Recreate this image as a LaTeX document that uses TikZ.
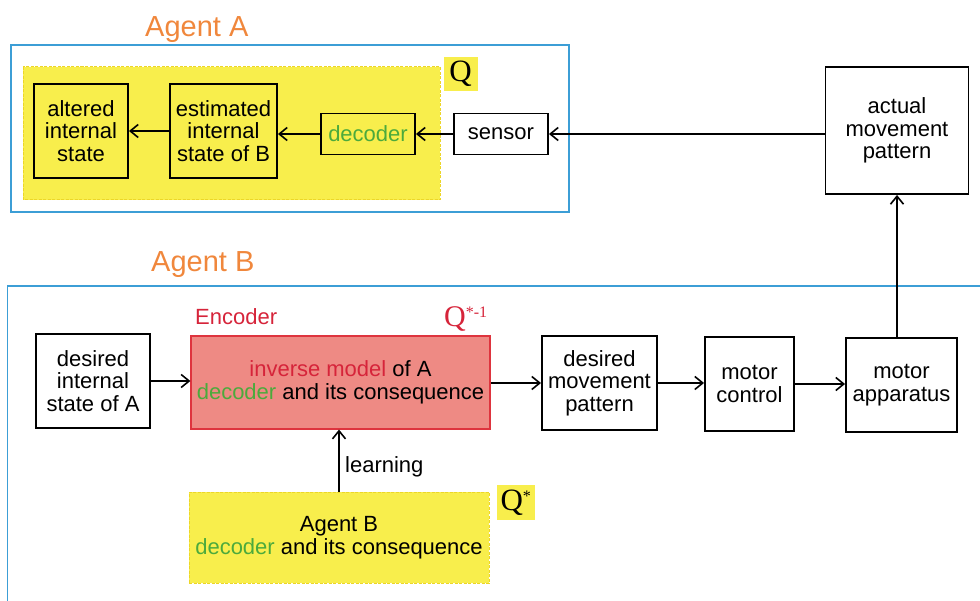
\documentclass[tikz,border=0pt]{standalone}
\usepackage{fontspec}
\setmainfont{Liberation Sans}
\newfontfamily\qfont{Liberation Serif}
\usetikzlibrary{arrows.meta}

\definecolor{agentblue}{RGB}{60,158,214}
\definecolor{hiyellow}{RGB}{248,238,76}
\definecolor{hiyellowedge}{RGB}{236,214,40}
\definecolor{encfill}{RGB}{238,138,132}
\definecolor{encedge}{RGB}{222,52,62}
\definecolor{agentorange}{RGB}{240,135,60}
\definecolor{encred}{RGB}{214,36,58}
\definecolor{decgreen}{RGB}{76,170,60}

\begin{document}
\begin{tikzpicture}[x=1pt,y=-1pt,
  bodytext/.style={font=\fontsize{22}{22.5}\selectfont},
  box/.style={bodytext, draw=black, line width=1.9pt, align=center, inner sep=0pt},
  arr/.style={line width=1.5pt, -{Straight Barb[length=8pt,width=13pt,line width=1.6pt]}},
  agentframe/.style={draw=agentblue, line width=1.2pt},
  agentlabel/.style={font=\fontsize{29}{30}\selectfont, text=agentorange, anchor=base west, inner sep=0pt},
  yellowzone/.style={fill=hiyellow, draw=hiyellowedge, line width=1pt, dash pattern=on 3pt off 1.5pt},
  qtag/.style={fill=hiyellow, inner sep=0pt, minimum width=34pt, minimum height=34pt, font=\qfont\fontsize{31}{31}\selectfont},
]
\useasboundingbox (0,0) rectangle (980,601);

% ---------------- Agent A ----------------
\node[agentlabel] (labA) at (145,37) {Agent A};
\draw[agentframe] (11,45) rectangle (569,212);
\draw[yellowzone] (23,67) rectangle (440,200);
\node[qtag] (qA) at (460.5,74) {Q};

\node[box, minimum width=94pt, minimum height=94pt] (altered) at (81,131) {altered\\internal\\state};
\node[box, minimum width=107pt, minimum height=94pt] (estim) at (223.5,131) {estimated\\internal\\state of B};
\node[box, minimum width=94pt, minimum height=41pt, text=decgreen] (decA) at (368,134) {decoder};
\node[box, minimum width=94pt, minimum height=41pt] (sensor) at (501,134) {sensor};

\node[box, minimum width=143pt, minimum height=127pt] (actual) at (897,130.5) {actual\\movement\\pattern};

% ---------------- Agent B ----------------
\node[agentlabel] (labB) at (151,272) {Agent B};
\draw[agentframe] (7.6,603) -- (7.6,286) -- (982,286);

\node[box, minimum width=114pt, minimum height=94pt] (desint) at (93,381) {desired\\internal\\state of A};
\node[bodytext, draw=encedge, line width=1.2pt, fill=encfill, align=center, inner sep=0pt,
      minimum width=299pt, minimum height=93pt] (enc) at (340.5,382.5)
      {{\color{encred}inverse model} of A\\{\color{decgreen}decoder} and its consequence};
\node[bodytext, text=encred, anchor=base west, inner sep=0pt] (enclab) at (195,325) {Encoder};
\node[font=\qfont\fontsize{30}{30}\selectfont, text=encred, anchor=base west, inner sep=0pt] (qinv) at (444,327)
      {Q\textsuperscript{\fontsize{16}{16}\selectfont *-1}};

\node[box, minimum width=115pt, minimum height=94pt] (desmov) at (599.5,383) {desired\\movement\\pattern};
\node[box, minimum width=89pt, minimum height=94pt] (motctl) at (749.5,384) {motor\\control};
\node[box, minimum width=111pt, minimum height=94pt] (motapp) at (901.5,385) {motor\\apparatus};

\node[bodytext, yellowzone, align=center, inner sep=0pt, minimum width=300pt, minimum height=91pt] (ownB) at (339,537.5)
      {Agent B\\{\color{decgreen}decoder} and its consequence};
\node[qtag, minimum width=38pt, minimum height=35pt] (qB) at (516,502.5) {Q\textsuperscript{\fontsize{16}{16}\selectfont *}};
\node[bodytext, anchor=base west, inner sep=0pt] (learnlab) at (345,472) {learning};

% ---------------- connectors ----------------
\draw[arr] (actual.west |- sensor.east) -- (sensor.east);
\draw[arr] (sensor.west) -- (decA.east);
\draw[arr] (decA.west) -- (decA.west -| estim.east);
\draw[arr] (estim.west) -- (altered.east);

\draw[arr] (desint.east) -- (desint.east -| enc.west);
\draw[arr] (enc.east |- desmov.west) -- (desmov.west);
\draw[arr] (desmov.east) -- (desmov.east -| motctl.west);
\draw[arr] (motctl.east) -- (motctl.east -| motapp.west);
\draw[arr] (motapp.north -| actual.south) -- (actual.south);
\draw[arr] (ownB.north) -- (ownB.north |- enc.south);
\end{tikzpicture}
\end{document}
